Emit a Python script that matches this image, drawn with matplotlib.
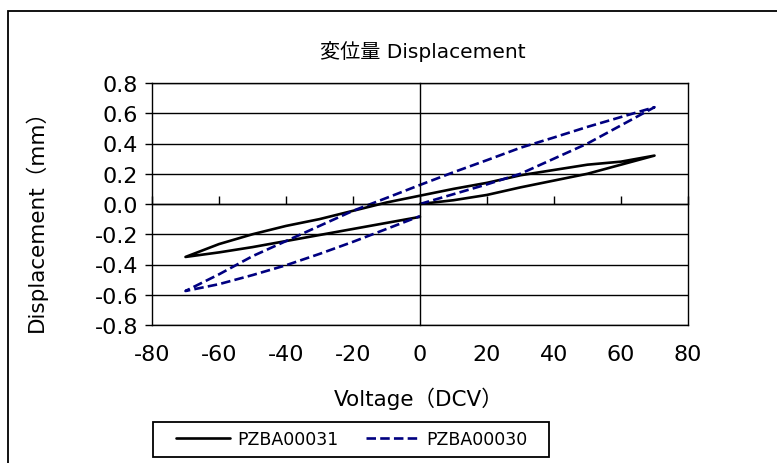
import matplotlib
matplotlib.use("Agg")
import matplotlib.pyplot as plt
from matplotlib.patches import Rectangle

plt.rcParams['font.family'] = ['DejaVu Sans', 'Noto Sans CJK JP']
plt.rcParams['axes.unicode_minus'] = False

# ---- data ----
voltage = [0, 10, 20, 30, 40, 50, 60, 70,
           60, 50, 40, 30, 20, 10, 0, -10, -20, -30, -40, -50, -60, -70,
           -60, -50, -40, -30, -20, -10, 0]
pzba00031 = [0.0, 0.025, 0.06, 0.11, 0.155, 0.20, 0.26, 0.32,
             0.28, 0.26, 0.225, 0.19, 0.14, 0.10, 0.055, 0.01, -0.045, -0.10, -0.145, -0.20, -0.265, -0.35,
             -0.32, -0.285, -0.245, -0.205, -0.165, -0.125, -0.085]
pzba00030 = [0.0, 0.065, 0.13, 0.20, 0.30, 0.40, 0.52, 0.64,
             0.575, 0.51, 0.44, 0.372, 0.29, 0.21, 0.126, 0.04, -0.045, -0.145, -0.245, -0.345, -0.465, -0.575,
             -0.53, -0.47, -0.405, -0.33, -0.25, -0.165, -0.08]
series_names = ['PZBA00031', 'PZBA00030']
x_ticks = [-80, -60, -40, -20, 0, 20, 40, 60, 80]
y_ticks = [-0.8, -0.6, -0.4, -0.2, 0.0, 0.2, 0.4, 0.6, 0.8]
title = '変位量 Displacement'
xlabel = 'Voltage（DCV）'
ylabel = 'Displacement（mm）'

W, H = 777, 464
fig = plt.figure(figsize=(W / 100, H / 100), dpi=100)

# outer chart border
fig.patches.append(Rectangle((8 / W, -0.05), 1.2, 1 - 12 / H + 0.05, transform=fig.transFigure,
                             fill=False, edgecolor='black', linewidth=1.3))

left, right, top, bottom = 152 / W, 688 / W, 1 - 84 / H, 1 - 326 / H
ax = fig.add_axes([left, bottom, right - left, top - bottom])

l1, = ax.plot(voltage, pzba00031, color='black', linewidth=1.9, solid_joinstyle='round',
              solid_capstyle='round', label=series_names[0])
l2, = ax.plot(voltage, pzba00030, color='#000080', linewidth=1.9, dashes=(3.6, 1.6),
              dash_capstyle='butt', label=series_names[1])

ax.set_xlim(-80, 80)
ax.set_ylim(-0.8, 0.8)
ax.set_yticks(y_ticks)
ax.set_xticks(x_ticks)
ax.yaxis.grid(True, color='black', linewidth=1.0)
ax.set_axisbelow(True)

# axis lines crossing at zero
ax.spines['bottom'].set_position(('data', 0))
ax.spines['left'].set_position(('data', 0))
for s in ['bottom', 'left', 'top', 'right']:
    ax.spines[s].set_linewidth(1.0)
ax.tick_params(axis='x', direction='in', length=6, width=1.0, labelbottom=False)
ax.tick_params(axis='y', length=0, labelleft=False)

# labels on the plot-area edges
secx = ax.secondary_xaxis(0.0)
secx.set_xticks(x_ticks)
secx.set_xticklabels([str(v) for v in x_ticks])
secx.tick_params(length=0, pad=14, labelsize=16)
secx.spines['bottom'].set_linewidth(1.0)

secy = ax.secondary_yaxis(0.0)
secy.set_yticks(y_ticks)
secy.set_yticklabels([f'{v:.1f}' for v in y_ticks])
secy.tick_params(length=5, width=1.0, direction='out', pad=5, labelsize=16)
secy.spines['left'].set_linewidth(1.0)

fig.text(423 / W, 1 - 51 / H, title, ha='center', va='center', fontsize=14.5)
fig.text(419 / W, 1 - 399 / H, xlabel, ha='center', va='center', fontsize=15.5)
fig.text(36 / W, 1 - 216 / H, ylabel, ha='center', va='center', rotation=90, fontsize=15.5)

# legend box
fig.patches.append(Rectangle((153 / W, 1 - 458 / H), (549 - 153) / W, 35 / H,
                             transform=fig.transFigure, fill=False, edgecolor='black',
                             linewidth=1.3))
leg = fig.legend(handles=[l1, l2], loc='center',
                 bbox_to_anchor=(352 / W, 1 - 440.5 / H),
                 ncol=2, frameon=False, fontsize=12.5, handlelength=3.1,
                 handletextpad=0.4, columnspacing=1.6, borderpad=0)

fig.savefig('out.png', dpi=100)
